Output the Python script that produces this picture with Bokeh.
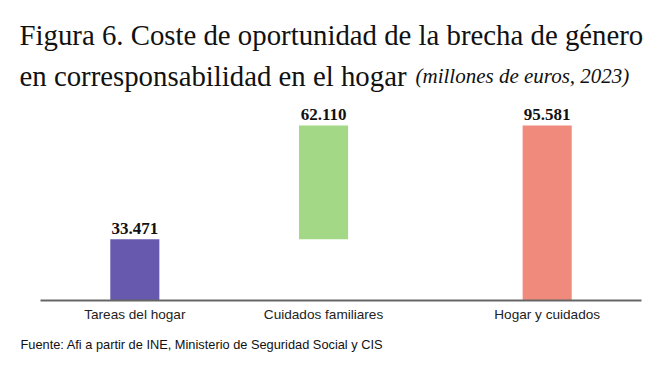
from bokeh.plotting import figure
from bokeh.models import FactorRange, ColumnDataSource, Label, Range1d, Title
from bokeh.core.properties import value
from bokeh.embed import file_html
from bokeh.resources import INLINE

# Data
categories = ["Tareas del hogar", "Cuidados familiares", "Hogar y cuidados"]
groups = ["", "", " "]
values = [33471, 62110, 95581]
kinds = ["parcial", "parcial", "total"]
labels = ["33.471", "62.110", "95.581"]
colors = ["#6759AE", "#A3D886", "#F08A7C"]

title_1 = "Figura 6. Coste de oportunidad de la brecha de género"
title_2 = "en corresponsabilidad en el hogar"
title_2_unit = "(millones de euros, 2023)"
source_note = "Fuente: Afi a partir de INE, Ministerio de Seguridad Social y CIS"

# waterfall bottoms / tops
bottoms, tops = [], []
running = 0
for v, k in zip(values, kinds):
    if k == "total":
        bottoms.append(0)
        tops.append(v)
    else:
        bottoms.append(running)
        tops.append(running + v)
        running += v

factors = list(zip(groups, categories))
src = ColumnDataSource(dict(x=factors, bottom=bottoms, top=tops, color=colors, label=labels))

GROUP_PAD = 0.185
W, H = 663, 366
p = figure(width=W, height=H, output_backend="svg", toolbar_location=None,
           x_range=FactorRange(*factors, group_padding=GROUP_PAD, range_padding=0.1164,
                               range_padding_units="absolute"),
           y_range=Range1d(0, 163850), y_axis_location=None,
           min_border_left=18, min_border_right=0, min_border_top=0, min_border_bottom=66)
p.outline_line_color = None
p.grid.visible = False

p.vbar(x="x", bottom="bottom", top="top", width=0.26, color="color", line_color=None, source=src)
p.text(x="x", y="top", text="label", source=src, text_align="center", text_baseline="alphabetic",
       y_offset=-11, text_font=value("Liberation Serif"), text_font_style="bold",
       text_font_size="17px", text_color="#111111")

n_groups = len(set(groups))
ax = p.xaxis[0]
ax.bounds = (0, len(categories) + GROUP_PAD * (n_groups - 1))
ax.axis_line_color = "#666666"
ax.axis_line_width = 2
ax.major_tick_line_color = None
ax.minor_tick_line_color = None
ax.major_label_text_font = "Liberation Sans"
ax.major_label_text_font_size = "13.6px"
ax.major_label_text_color = "#222222"
ax.major_label_standoff = 0
ax.group_text_font_size = "1px"
ax.group_text_color = None
ax.separator_line_color = None

title_font = "Liberation Serif"
p.add_layout(Label(x=1, y=266, x_units="screen", y_units="screen", text=title_1,
                   text_font=title_font, text_font_size="28.8px", text_color="#111111",
                   text_baseline="alphabetic"))
p.add_layout(Label(x=1, y=225, x_units="screen", y_units="screen", text=title_2,
                   text_font=title_font, text_font_size="28.8px", text_color="#111111",
                   text_baseline="alphabetic"))
p.add_layout(Label(x=397, y=225, x_units="screen", y_units="screen", text=title_2_unit,
                   text_font=title_font, text_font_size="21px", text_font_style="italic",
                   text_color="#111111", text_baseline="alphabetic"))

p.add_layout(Title(text=source_note, align="left", offset=2, standoff=20,
                   text_font="Liberation Sans", text_font_size="12.8px",
                   text_font_style="normal", text_color="#111111"), "below")

open("out.html", "w").write(file_html(p, INLINE))
